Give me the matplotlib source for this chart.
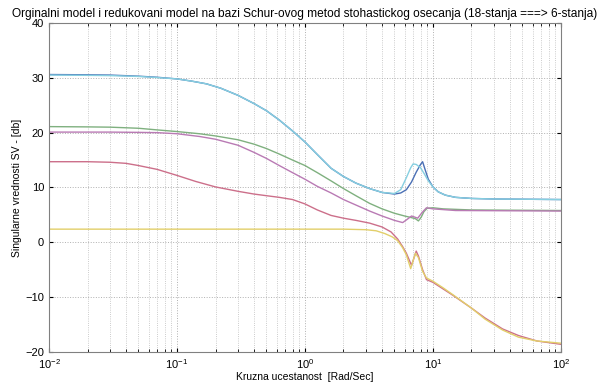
import matplotlib
matplotlib.use('Agg')
import matplotlib.pyplot as plt
from matplotlib.ticker import LogLocator, NullFormatter

plt.rcParams['font.family'] = ['Liberation Sans', 'DejaVu Sans']
plt.rcParams['mathtext.fontset'] = 'custom'
plt.rcParams['mathtext.rm'] = 'Liberation Sans'

# originalni model (18 stanja) - singularne vrednosti
w_orig1 = [0.01, 0.02, 0.03, 0.05, 0.07, 0.1, 0.13, 0.17, 0.22, 0.3, 0.4, 0.5, 0.63, 0.8, 1.0,
           1.25, 1.6, 2.0, 2.5, 3.2, 4.0, 5.0, 5.6, 6.2, 6.8, 7.4, 8.0, 8.3, 8.7, 9.2, 10, 11,
           12.5, 15, 20, 30, 100]
sv_orig1 = [30.6, 30.55, 30.5, 30.3, 30.1, 29.8, 29.4, 28.9, 28.1, 26.8, 25.3, 24.0, 22.3, 20.3, 18.3,
            16.0, 13.5, 12.0, 10.8, 9.8, 9.1, 8.8, 9.0, 9.6, 11.0, 12.8, 14.2, 14.7, 13.2, 11.5, 10.1, 9.2,
            8.6, 8.2, 8.0, 7.9, 7.8]

w_orig2 = [0.01, 0.02, 0.03, 0.05, 0.07, 0.1, 0.15, 0.2, 0.3, 0.4, 0.5, 0.63, 0.8, 1.0, 1.25,
           1.6, 2.0, 2.5, 3.2, 4.0, 5.0, 6.0, 6.8, 7.3, 7.7, 8.1, 8.5, 9.0, 10, 12, 20, 100]
sv_orig2 = [21.1, 21.05, 21.0, 20.8, 20.5, 20.2, 19.8, 19.4, 18.7, 17.9, 17.1, 16.1, 15.0, 14.0, 12.7,
            11.2, 9.8, 8.5, 7.1, 6.1, 5.3, 4.8, 4.5, 4.3, 3.9, 4.6, 5.6, 6.2, 6.3, 6.1, 5.9, 5.8]

w_orig3 = [0.01, 0.02, 0.03, 0.04, 0.05, 0.07, 0.1, 0.14, 0.2, 0.3, 0.4, 0.5, 0.63, 0.8, 1.0,
           1.25, 1.6, 2.0, 2.5, 3.2, 4.0, 4.7, 5.3, 5.8, 6.2, 6.8, 7.4, 7.7, 8.3, 8.9, 10, 12,
           14.4, 20, 25.5, 35, 46.6, 65, 100]
sv_orig3 = [14.7, 14.7, 14.6, 14.4, 14.0, 13.3, 12.2, 11.1, 10.1, 9.3, 8.8, 8.5, 8.2, 7.8, 7.0,
            5.9, 4.9, 4.4, 4.0, 3.5, 2.8, 1.9, 0.6, -0.8, -2.0, -4.2, -1.6, -2.5, -5.0, -6.8, -7.3, -8.5,
            -9.7, -12.0, -13.8, -15.8, -17.0, -18.0, -18.6]

# redukovani model (6 stanja)
w_red1 = [0.01, 0.02, 0.03, 0.05, 0.07, 0.1, 0.13, 0.17, 0.22, 0.3, 0.4, 0.5, 0.63, 0.8, 1.0,
          1.25, 1.6, 2.0, 2.5, 3.2, 4.0, 5.0, 5.6, 6.2, 6.7, 7.0, 7.4, 8.0, 8.5, 9.2, 10, 11,
          12.5, 15, 20, 30, 100]
sv_red1 = [30.5, 30.45, 30.4, 30.25, 30.05, 29.8, 29.4, 28.9, 28.1, 26.8, 25.3, 24.0, 22.3, 20.3, 18.3,
           16.0, 13.5, 12.0, 10.8, 9.8, 9.1, 8.9, 9.6, 11.8, 13.6, 14.3, 14.2, 13.6, 12.6, 11.2, 10.1, 9.2,
           8.6, 8.2, 8.0, 7.9, 7.8]

w_red2 = [0.01, 0.03, 0.05, 0.07, 0.1, 0.15, 0.2, 0.3, 0.4, 0.5, 0.63, 0.8, 1.0, 1.25, 1.6,
          2.0, 2.5, 3.2, 4.0, 5.0, 5.8, 6.3, 6.8, 7.2, 7.6, 8.2, 8.9, 10, 15, 100]
sv_red2 = [20.1, 20.1, 20.05, 20.0, 19.8, 19.3, 18.8, 17.7, 16.4, 15.3, 14.0, 12.7, 11.5, 10.2, 9.0,
           7.8, 6.8, 5.7, 4.8, 4.0, 3.6, 4.2, 4.8, 4.6, 4.4, 5.4, 6.3, 6.1, 5.8, 5.7]

w_red3 = [0.01, 0.1, 1.0, 2.0, 3.0, 3.6, 4.2, 4.8, 5.3, 5.8, 6.2, 6.7, 7.3, 7.7, 8.3, 8.9,
          10, 12, 14.4, 20, 25.5, 35, 46.6, 65, 100]
sv_red3 = [2.4, 2.4, 2.4, 2.4, 2.3, 2.1, 1.6, 1.0, 0.3, -1.0, -2.3, -4.8, -2.0, -2.8, -5.3, -6.5,
           -7.1, -8.3, -9.6, -12.0, -14.0, -16.0, -17.3, -18.0, -18.4]

fig = plt.figure(figsize=(6.08, 3.83), dpi=100)
ax = fig.add_axes([0.0806, 0.081, 0.842, 0.859])

ax.semilogx(w_orig1, sv_orig1, color='#4a6fb5', lw=1.0)
ax.semilogx(w_orig2, sv_orig2, color='#7fb07f', lw=1.0)
ax.semilogx(w_orig3, sv_orig3, color='#cc6f8a', lw=1.0)
ax.semilogx(w_red1, sv_red1, color='#86cfe0', lw=1.0)
ax.semilogx(w_red2, sv_red2, color='#b97ab4', lw=1.0)
ax.semilogx(w_red3, sv_red3, color='#e2cf6a', lw=1.0)

ax.set_xlim(1e-2, 1e2)
ax.set_ylim(-20, 40)
ax.set_yticks([-20, -10, 0, 10, 20, 30, 40])
ax.xaxis.set_major_locator(LogLocator(base=10))
ax.xaxis.set_minor_locator(LogLocator(base=10, subs=range(2, 10)))
ax.xaxis.set_minor_formatter(NullFormatter())

ax.grid(True, which='major', ls=':', color='#b0b0b0', lw=0.7)
ax.grid(True, which='minor', axis='x', ls=':', color='#bbbbbb', lw=0.6)
ax.tick_params(which='both', direction='in', top=True, right=True, labelsize=8)
ax.tick_params(which='major', length=3)
ax.tick_params(which='minor', length=2)
for s in ax.spines.values():
    s.set_color('#808080')
    s.set_linewidth(0.8)

ax.set_title('Orginalni model i redukovani model na bazi Schur-ovog metod stohastickog osecanja (18-stanja ===> 6-stanja)',
             fontsize=8.6, pad=4)
ax.set_xlabel('Kruzna ucestanost  [Rad/Sec]', fontsize=7.5, labelpad=1)
ax.set_ylabel('Singularne vrednosti SV - [db]', fontsize=7.5, labelpad=2)

fig.savefig('out.png', dpi=100)
